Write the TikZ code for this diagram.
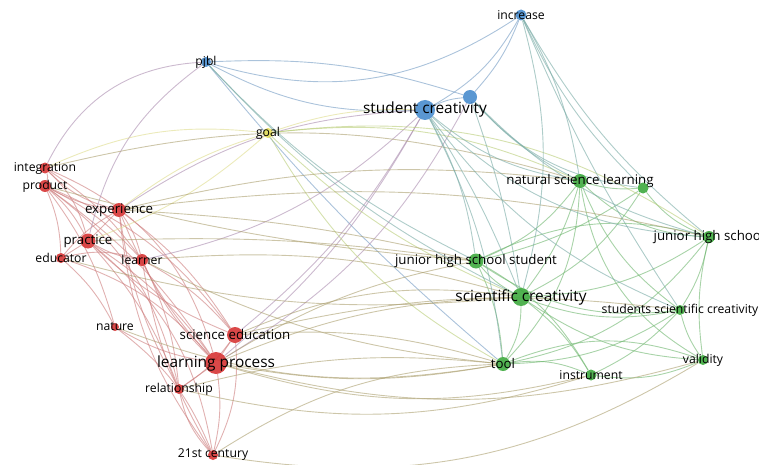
\documentclass[tikz,border=0pt]{standalone}
\usepackage{fontspec}
\setmainfont{Open Sans}
\usetikzlibrary{backgrounds}

\definecolor{redN}{RGB}{214,52,52}
\definecolor{bluN}{RGB}{72,140,205}
\definecolor{grnN}{RGB}{62,170,62}
\definecolor{yelN}{RGB}{228,222,90}
\definecolor{redE}{RGB}{205,125,125}
\definecolor{bluE}{RGB}{115,155,195}
\definecolor{grnE}{RGB}{110,182,110}
\definecolor{yelE}{RGB}{222,220,140}
\definecolor{rgE}{RGB}{172,160,112}
\definecolor{bgE}{RGB}{120,170,165}
\definecolor{rbE}{RGB}{170,140,175}
\definecolor{ygE}{RGB}{185,205,120}

\newcommand{\lblsize}[1]{\fontsize{#1}{#1}\selectfont}

\begin{document}
\begin{tikzpicture}[x=1pt,y=-1pt,
    dot/.style={circle,inner sep=0pt,fill=#1,fill opacity=.9},
    lbl/.style={text=black,inner sep=0pt,font=\lblsize{12.2}},
    mid/.style={lbl,font=\lblsize{13.3}},
    big/.style={lbl,font=\lblsize{15.4}},
    edge/.style={draw=#1,line width=.9pt,draw opacity=.6}]
  \useasboundingbox (0,0) rectangle (759,465);

  % blue cluster
  \node (inc) at (521,15) [dot=bluN,minimum size=11pt,label={[lbl]center:increase}] {};
  \node (pjbl) at (206,62) [dot=bluN,minimum size=10pt,label={[lbl]center:pjbl}] {};
  \node (sc) at (425,110) [dot=bluN,minimum size=20pt,label={[big]center:student creativity}] {};
  \node (bx) at (470,97) [dot=bluN,minimum size=14pt] {};
  % yellow cluster
  \node (goal) at (268,133) [dot=yelN,minimum size=10pt,label={[lbl]center:goal}] {};
  % red cluster
  \node (integ) at (45,168) [dot=redN,minimum size=11pt,label={[lbl]center:integration}] {};
  \node (prod) at (45,186) [dot=redN,minimum size=12pt,label={[lbl]center:product}] {};
  \node (exp) at (119,210) [dot=redN,minimum size=14pt,label={[mid]center:experience}] {};
  \node (prac) at (88,241) [dot=redN,minimum size=15pt,label={[mid]center:practice}] {};
  \node (edu) at (61,258) [dot=redN,minimum size=10pt,label={[lbl]center:educator}] {};
  \node (lrn) at (142,260) [dot=redN,minimum size=12pt,label={[lbl]center:learner}] {};
  \node (nat) at (115,327) [dot=redN,minimum size=8pt,label={[lbl]center:nature}] {};
  \node (sced) at (235,335) [dot=redN,minimum size=16pt,label={[mid]center:science education}] {};
  \node (lp) at (216,363) [dot=redN,minimum size=22pt,label={[big]center:learning process}] {};
  \node (rel) at (179,389) [dot=redN,minimum size=10pt,label={[lbl]center:relationship}] {};
  \node (c21) at (213,455) [dot=redN,minimum size=10pt,label={[lbl]center:21st century}] {};
  % green cluster
  \node (nsl) at (580,181) [dot=grnN,minimum size=14pt,label={[mid]center:natural science learning}] {};
  \node (gx) at (643,188) [dot=grnN,minimum size=11pt] {};
  \node (jhs) at (709,237) [dot=grnN,minimum size=12pt,label={[mid]center:junior high school}] {};
  \node (jhss) at (476,261) [dot=grnN,minimum size=15pt,label={[mid]center:junior high school student}] {};
  \node (scr) at (521,297) [dot=grnN,minimum size=18pt,label={[big]center:scientific creativity}] {};
  \node (sscr) at (680,310) [dot=grnN,minimum size=10pt,label={[lbl]center:students scientific creativity}] {};
  \node (tool) at (503,364) [dot=grnN,minimum size=14pt,label={[mid]center:tool}] {};
  \node (instr) at (591,375) [dot=grnN,minimum size=11pt,label={[lbl]center:instrument}] {};
  \node (val) at (703,360) [dot=grnN,minimum size=10pt,label={[lbl]center:validity}] {};

  \begin{scope}[on background layer]
    % links inside clusters
    \foreach \a/\b/\k in {integ/prod/20,integ/exp/-15,integ/prac/15,integ/lrn/10,integ/lp/25,
        prod/exp/-10,prod/prac/10,prod/edu/10,prod/lrn/10,prod/sced/15,prod/lp/10,prod/rel/20,prod/nat/10,
        exp/prac/0,exp/lrn/10,exp/edu/-10,exp/sced/10,exp/lp/-10,exp/rel/-10,exp/c21/-15,
        prac/edu/0,prac/lrn/-10,prac/lp/10,prac/sced/-10,prac/rel/10,prac/c21/20,
        edu/lrn/15,edu/lp/15,edu/nat/10,lrn/lp/-10,lrn/sced/10,lrn/rel/10,lrn/c21/-10,
        nat/lp/-10,nat/c21/15,sced/lp/0,lp/rel/0,lp/c21/10,rel/c21/-15,sced/c21/15,rel/sced/-10}
      \draw[edge=redE] (\a) to[bend left=\k] (\b);
    \foreach \a/\b/\k in {inc/sc/15,inc/bx/10,pjbl/sc/-15,pjbl/bx/10,pjbl/inc/-25,sc/bx/10,pjbl/tool/-5}
      \draw[edge=bluE] (\a) to[bend left=\k] (\b);
    \foreach \a/\b/\k in {nsl/gx/-10,nsl/jhs/-20,nsl/jhss/15,nsl/scr/10,nsl/sscr/-15,nsl/tool/20,nsl/val/-25,
        gx/jhs/-15,gx/scr/15,gx/jhss/10,jhs/scr/15,jhs/sscr/10,jhs/tool/20,jhs/val/-10,
        jhss/scr/-10,jhss/sscr/-20,jhss/tool/10,jhss/instr/15,scr/sscr/-15,scr/tool/15,scr/instr/10,
        scr/val/-15,sscr/tool/15,sscr/instr/10,sscr/val/-10,tool/instr/15,tool/val/20,instr/val/-15,jhs/jhss/-20}
      \draw[edge=grnE] (\a) to[bend left=\k] (\b);
    % links between clusters
    \foreach \a/\b/\k in {integ/pjbl/30,prac/pjbl/20,exp/sc/15,lp/sc/-10,sced/sc/-10,lp/bx/-15,lrn/sc/-15}
      \draw[edge=rbE] (\a) to[bend left=\k] (\b);
    \foreach \a/\b/\k in {integ/goal/15,exp/goal/10,prac/goal/-10,goal/sc/10}
      \draw[edge=yelE] (\a) to[bend left=\k] (\b);
    \foreach \a/\b/\k in {goal/nsl/15,goal/jhs/20,goal/scr/-10,goal/tool/-15}
      \draw[edge=ygE] (\a) to[bend left=\k] (\b);
    \foreach \a/\b/\k in {exp/nsl/10,exp/jhs/10,exp/jhss/5,integ/nsl/15,prod/jhss/-5,lp/scr/10,lp/tool/-10,
        lp/instr/-15,lp/val/-15,sced/scr/15,sced/tool/10,sced/sscr/10,lp/jhss/10,rel/tool/10,rel/instr/-15,
        c21/tool/15,c21/val/-20,lrn/scr/10,lrn/tool/-10,prac/jhss/5,nat/tool/-15,edu/scr/-10}
      \draw[edge=rgE] (\a) to[bend left=\k] (\b);
    \foreach \a/\b/\k in {sc/nsl/-15,sc/jhss/10,sc/scr/5,sc/tool/10,sc/jhs/-20,sc/sscr/-15,bx/nsl/-10,bx/gx/-20,
        bx/scr/5,bx/jhs/-15,inc/nsl/10,inc/jhs/-10,inc/scr/15,inc/gx/-10,inc/sscr/-5,pjbl/scr/-10,pjbl/jhss/-10}
      \draw[edge=bgE] (\a) to[bend left=\k] (\b);
  \end{scope}
\end{tikzpicture}
\end{document}
